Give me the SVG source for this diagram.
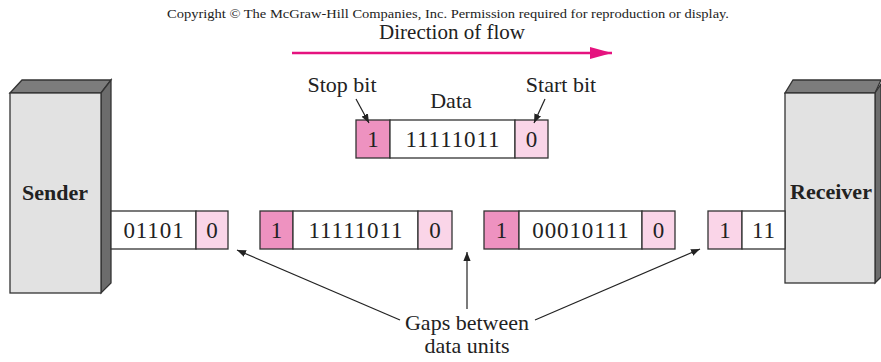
<svg xmlns="http://www.w3.org/2000/svg" width="881" height="362" viewBox="0 0 881 362">
<style>
text{font-family:"Liberation Serif","Times New Roman",serif;fill:#222}
.lbl{font-size:22px}
.dig{font-size:23px;letter-spacing:0.9px}
.bold{font-size:22px;font-weight:bold}
.cell{stroke:#333;stroke-width:1.3}
.w{fill:#fff}
.dk{fill:#ee92c0}
.lt{fill:#fad5e8}
.front{fill:#e2e2e2;stroke:#333;stroke-width:1.3}
.top{fill:#7c7c7c;stroke:#333;stroke-width:1.3}
.side{fill:#6c6c6c;stroke:#333;stroke-width:1.3}
.conn{stroke:#222;stroke-width:1.2;fill:none;marker-end:url(#ah)}
</style>
<defs>
<marker id="ah" viewBox="0 0 10 10" refX="10" refY="5" markerWidth="9" markerHeight="9" markerUnits="userSpaceOnUse" orient="auto">
<path d="M0,1 L10,5 L0,9 Z" fill="#222"/>
</marker>
<marker id="pk" viewBox="0 0 10 10" refX="10" refY="5" markerWidth="22" markerHeight="12" markerUnits="userSpaceOnUse" orient="auto" preserveAspectRatio="none">
<path d="M0,0 L10,5 L0,10 Z" fill="#e5137f"/>
</marker>
</defs>
<text x="448" y="18" text-anchor="middle" style="font-size:13px" textLength="562" lengthAdjust="spacingAndGlyphs">Copyright © The McGraw-Hill Companies, Inc. Permission required for reproduction or display.</text>
<text x="452" y="39" text-anchor="middle" style="font-size:21px">Direction of flow</text>
<g id="flow-arrow">
<line x1="292" y1="53" x2="612" y2="53" stroke="#e5137f" stroke-width="2.5" marker-end="url(#pk)"/>
</g>
<g id="sender">
<polygon class="top" points="10,93 22,80 111,80 101,93"/>
<polygon class="side" points="101,93 111,80 111,283 101,293"/>
<rect class="front" x="10" y="93" width="91" height="200"/>
<text class="bold" x="55" y="200" text-anchor="middle">Sender</text>
</g>
<g id="receiver">
<polygon class="top" points="785,93 793,80 881,80 875,93"/>
<polygon class="side" points="875,93 881,84 881,277 875,283"/>
<rect class="front" x="785" y="93" width="90" height="190"/>
<text class="bold" x="831" y="199" text-anchor="middle">Receiver</text>
</g>
<g id="frame-top">
<rect class="cell dk" x="356" y="120" width="34" height="38"/>
<rect class="cell w" x="390" y="120" width="125" height="38"/>
<rect class="cell lt" x="515" y="120" width="33" height="38"/>
<text class="dig" x="373.5" y="147" text-anchor="middle">1</text>
<text class="dig" x="453" y="147" text-anchor="middle">11111011</text>
<text class="dig" x="532" y="147" text-anchor="middle">0</text>
</g>
<g id="labels">
<text class="lbl" x="342" y="92" text-anchor="middle">Stop bit</text>
<text class="lbl" x="451" y="108" text-anchor="middle">Data</text>
<text class="lbl" x="561" y="92" text-anchor="middle">Start bit</text>
<text class="lbl" x="467" y="330" text-anchor="middle">Gaps between</text>
<text class="lbl" x="467" y="353" text-anchor="middle">data units</text>
</g>
<g id="frame-1">
<rect class="cell w" x="111" y="211" width="85" height="38"/>
<rect class="cell lt" x="196" y="211" width="32" height="38"/>
<text class="dig" x="154" y="238" text-anchor="middle">01101</text>
<text class="dig" x="212.5" y="238" text-anchor="middle">0</text>
</g>
<g id="frame-2">
<rect class="cell dk" x="260" y="211" width="33" height="38"/>
<rect class="cell w" x="293" y="211" width="125" height="38"/>
<rect class="cell lt" x="418" y="211" width="34" height="38"/>
<text class="dig" x="277" y="238" text-anchor="middle">1</text>
<text class="dig" x="356" y="238" text-anchor="middle">11111011</text>
<text class="dig" x="435.5" y="238" text-anchor="middle">0</text>
</g>
<g id="frame-3">
<rect class="cell dk" x="484" y="211" width="35" height="38"/>
<rect class="cell w" x="519" y="211" width="123" height="38"/>
<rect class="cell lt" x="642" y="211" width="33" height="38"/>
<text class="dig" x="502" y="238" text-anchor="middle">1</text>
<text class="dig" x="581" y="238" text-anchor="middle">00010111</text>
<text class="dig" x="659" y="238" text-anchor="middle">0</text>
</g>
<g id="frame-4">
<rect class="cell lt" x="708" y="211" width="34" height="38"/>
<rect class="cell w" x="742" y="211" width="43" height="38"/>
<text class="dig" x="725.5" y="238" text-anchor="middle">1</text>
<text class="dig" x="764" y="238" text-anchor="middle">11</text>
</g>
<g id="connectors">
<line class="conn" x1="356" y1="99" x2="369" y2="123"/>
<line class="conn" x1="545" y1="99" x2="534" y2="123"/>
<line class="conn" x1="400" y1="320" x2="237" y2="250"/>
<line class="conn" x1="467" y1="309" x2="467" y2="252"/>
<line class="conn" x1="535" y1="320" x2="700" y2="249"/>
</g>
</svg>
